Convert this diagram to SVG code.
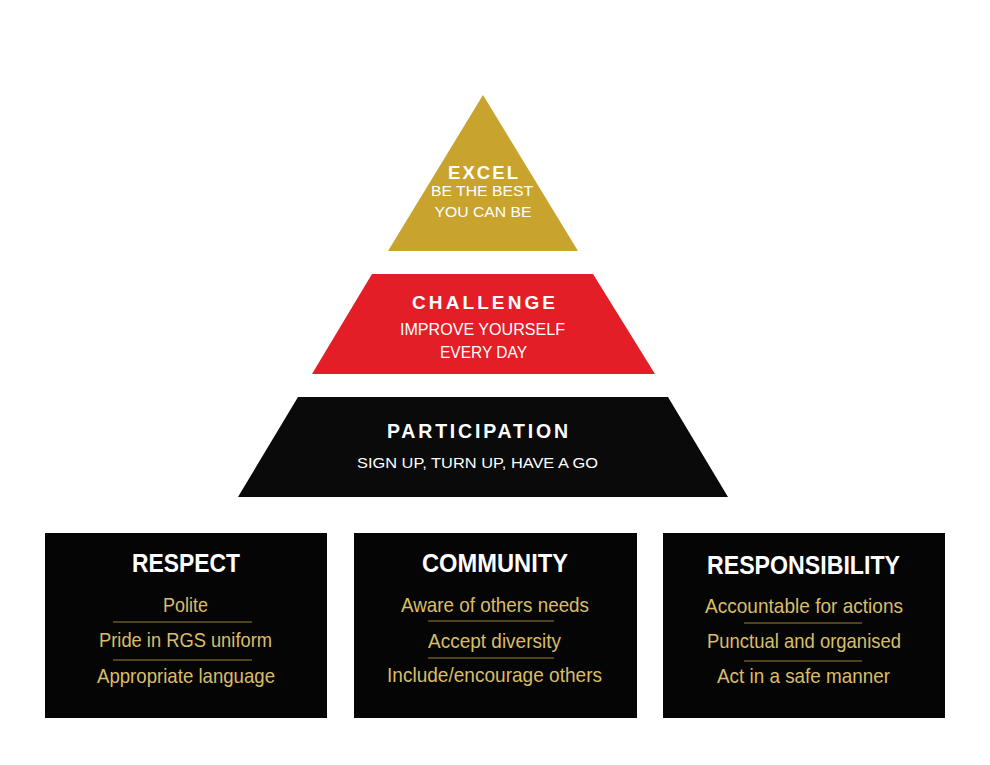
<svg xmlns="http://www.w3.org/2000/svg" width="990" height="765" viewBox="0 0 990 765">
<style>
.t{font-family:"Liberation Sans",Arial,sans-serif;fill:#fff;text-anchor:middle}
.b{font-weight:bold}
.h{font-family:"Liberation Sans",Arial,sans-serif;font-weight:bold;fill:#fff;text-anchor:middle;font-size:25px}
.i{font-family:"Liberation Sans",Arial,sans-serif;fill:#d9bd68;text-anchor:middle;font-size:21px}
.box{fill:#050505}
.div{stroke:#9a8238;stroke-width:1.2}
</style>
<rect width="990" height="765" fill="#fff"/>
<g id="excel">
<polygon points="483,95 578,251 388,251" fill="#c8a32e"/>
<text class="t b" x="483" y="179" font-size="18.5" textLength="70" lengthAdjust="spacing">EXCEL</text>
<text class="t" x="482" y="196" font-size="15" textLength="102" lengthAdjust="spacingAndGlyphs">BE THE BEST</text>
<text class="t" x="483" y="217" font-size="15" textLength="97" lengthAdjust="spacingAndGlyphs">YOU CAN BE</text>
</g>
<g id="challenge">
<polygon points="372,274 593,274 655,374 312,374" fill="#e31e26"/>
<text class="t b" x="483.5" y="309" font-size="19" textLength="143" lengthAdjust="spacing">CHALLENGE</text>
<text class="t" x="482.5" y="335" font-size="16.5" textLength="165" lengthAdjust="spacingAndGlyphs">IMPROVE YOURSELF</text>
<text class="t" x="483.5" y="358" font-size="16.5" textLength="87" lengthAdjust="spacingAndGlyphs">EVERY DAY</text>
</g>
<g id="participation">
<polygon points="298,397 668,397 728,497 238,497" fill="#0a0a0a"/>
<text class="t b" x="477.5" y="438" font-size="19.5" textLength="181" lengthAdjust="spacing">PARTICIPATION</text>
<text class="t" x="477.5" y="468" font-size="15.5" textLength="241" lengthAdjust="spacingAndGlyphs">SIGN UP, TURN UP, HAVE A GO</text>
</g>
<g id="respect">
<rect class="box" x="45" y="533" width="282" height="185"/>
<text class="h" x="186" y="572" textLength="108" lengthAdjust="spacingAndGlyphs">RESPECT</text>
<text class="i" x="185.5" y="612" textLength="45" lengthAdjust="spacingAndGlyphs">Polite</text>
<line class="div" x1="113" y1="622" x2="252" y2="622"/>
<text class="i" x="185.5" y="647" textLength="173" lengthAdjust="spacingAndGlyphs">Pride in RGS uniform</text>
<line class="div" x1="113" y1="660" x2="252" y2="660"/>
<text class="i" x="186" y="683" textLength="178" lengthAdjust="spacingAndGlyphs">Appropriate language</text>
</g>
<g id="community">
<rect class="box" x="354" y="533" width="283" height="185"/>
<text class="h" x="495" y="572" textLength="146" lengthAdjust="spacingAndGlyphs">COMMUNITY</text>
<text class="i" x="495" y="612" textLength="188" lengthAdjust="spacingAndGlyphs">Aware of others needs</text>
<line class="div" x1="428" y1="621" x2="554" y2="621"/>
<text class="i" x="494.5" y="648" textLength="133" lengthAdjust="spacingAndGlyphs">Accept diversity</text>
<line class="div" x1="428" y1="658" x2="554" y2="658"/>
<text class="i" x="494.5" y="682" textLength="215" lengthAdjust="spacingAndGlyphs">Include/encourage others</text>
</g>
<g id="responsibility">
<rect class="box" x="663" y="533" width="282" height="185"/>
<text class="h" x="803.5" y="574" textLength="193" lengthAdjust="spacingAndGlyphs">RESPONSIBILITY</text>
<text class="i" x="804" y="613" textLength="198" lengthAdjust="spacingAndGlyphs">Accountable for actions</text>
<line class="div" x1="744" y1="623" x2="862" y2="623"/>
<text class="i" x="804" y="648" textLength="194" lengthAdjust="spacingAndGlyphs">Punctual and organised</text>
<line class="div" x1="744" y1="661" x2="862" y2="661"/>
<text class="i" x="803.5" y="683" textLength="173" lengthAdjust="spacingAndGlyphs">Act in a safe manner</text>
</g>
<g id="connectors"></g>
</svg>
